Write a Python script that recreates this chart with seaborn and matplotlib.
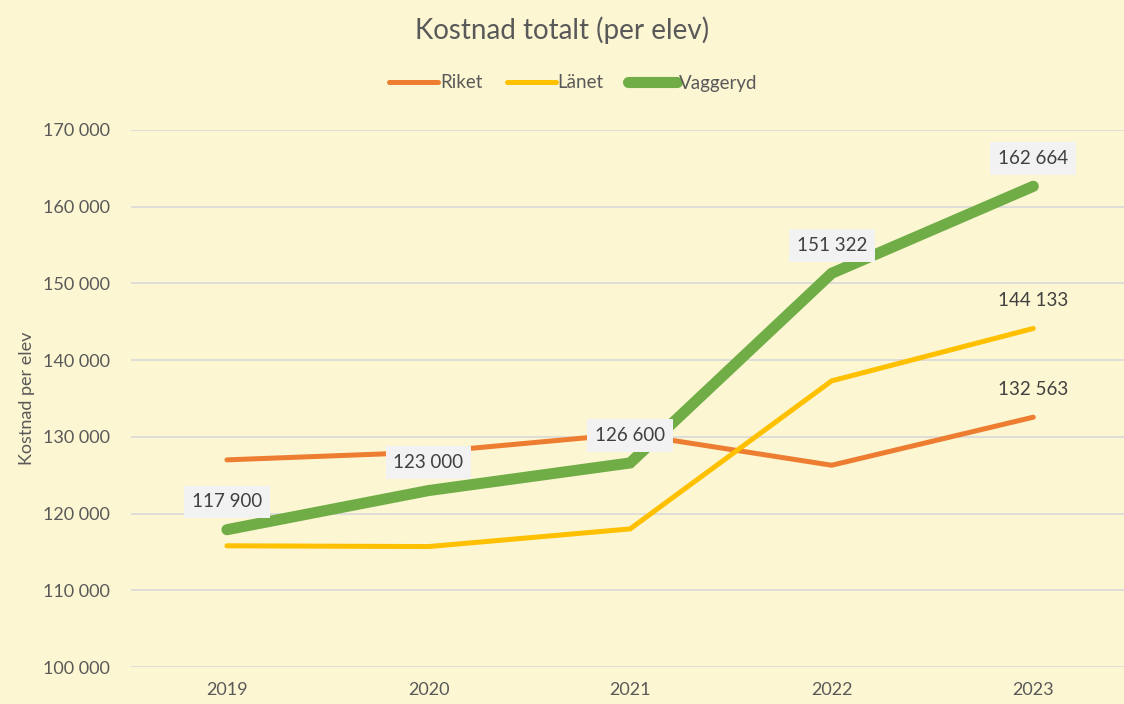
import pandas as pd
import matplotlib.pyplot as plt
import seaborn as sns

# data
years = ["2019", "2020", "2021", "2022", "2023"]
riket = [127000, 128000, 130400, 126300, 132563]
lanet = [115800, 115700, 118000, 137300, 144133]
vaggeryd = [117900, 123000, 126600, 151322, 162664]

series_names = ["Riket", "Länet", "Vaggeryd"]
colors = {"Riket": "#ED7D31", "Länet": "#FFC000", "Vaggeryd": "#70AD47"}
widths = {"Riket": 3.6, "Länet": 3.6, "Vaggeryd": 8}

df = pd.DataFrame({"År": years * 3,
                   "Kostnad": riket + lanet + vaggeryd,
                   "Serie": [n for n in series_names for _ in years]})

bg = "#FCF6D2"
txt = "#595959"

sns.set_style("white")
plt.rcParams["font.family"] = ["Lato", "DejaVu Sans"]

fig = plt.figure(figsize=(11.24, 7.04), dpi=100, facecolor=bg)
ax = fig.add_axes([131 / 1124, 1 - 667 / 704, 1 - 131 / 1124, (667 - 130) / 704])
ax.set_facecolor(bg)

for name in series_names:
    sns.lineplot(data=df[df["Serie"] == name], x="År", y="Kostnad", ax=ax,
                 color=colors[name], linewidth=widths[name], label=name,
                 solid_capstyle="round", solid_joinstyle="miter", zorder=3)

ax.set_xlim(-0.476, 4.45)
ax.set_ylim(100000, 170000)
ax.set_yticks(range(100000, 170001, 10000))
ax.set_yticklabels([f"{v:,}".replace(",", " ") for v in range(100000, 170001, 10000)])
ax.grid(axis="y", color="#D9D9D9", linewidth=1.2)
ax.grid(axis="x", visible=False)
ax.set_axisbelow(True)
for s in ax.spines.values():
    s.set_visible(False)
ax.tick_params(axis="y", length=0, pad=15, labelsize=13, labelcolor=txt)
ax.tick_params(axis="x", length=0, pad=11, labelsize=13, labelcolor=txt)
ax.set_xlabel("")
ax.set_ylabel("Kostnad per elev", fontsize=13, color=txt, labelpad=6)

box = dict(boxstyle="square,pad=0.42", facecolor="#F2F2F2", edgecolor="none")
for i, v in enumerate(vaggeryd):
    ax.annotate(f"{v:,}".replace(",", " "), (i, v), xytext=(0, 20), textcoords="offset points",
                ha="center", va="center", fontsize=13.5, color="#404040", bbox=box, zorder=5)
for vals in (lanet, riket):
    ax.annotate(f"{vals[-1]:,}".replace(",", " "), (4, vals[-1]), xytext=(0, 20),
                textcoords="offset points", ha="center", va="center",
                fontsize=13.5, color="#404040", zorder=5)

ax.get_legend().remove()
handles, labels = ax.get_legend_handles_labels()
leg = fig.legend(handles, labels, loc="center", bbox_to_anchor=(0.51, 1 - 83 / 704), ncol=3,
                 frameon=False, fontsize=13.5, handlelength=2.6, handletextpad=0.1,
                 columnspacing=1.3, labelcolor=txt)
for h in leg.get_lines():
    h.set_solid_capstyle("round")

fig.suptitle("Kostnad totalt (per elev)", y=1 - 30 / 704, va="center", fontsize=20, color=txt)

fig.savefig("out.png", dpi=100, facecolor=bg)
